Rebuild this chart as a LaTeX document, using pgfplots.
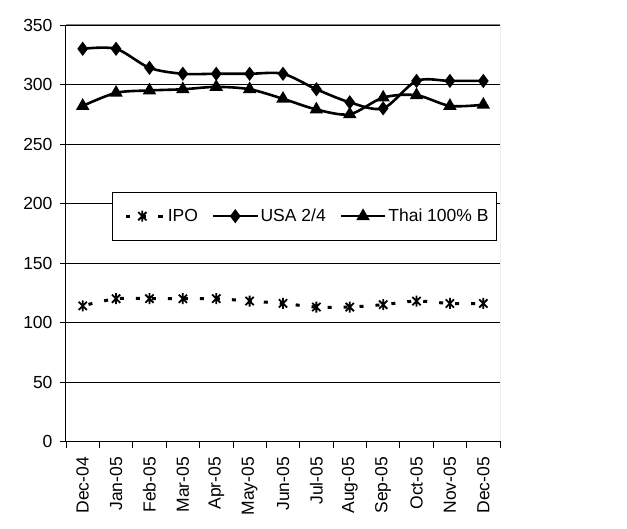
\documentclass[border=0pt]{standalone}
\usepackage{fontspec}
\setmainfont{Liberation Sans}
\usepackage{pgfplots}
\pgfplotsset{compat=1.18}

% Excel-style star: a vertical bar crossed by an X
\pgfdeclareplotmark{xlstar}{%
  \pgfpathmoveto{\pgfqpoint{0pt}{\pgfplotmarksize}}%
  \pgfpathlineto{\pgfqpoint{0pt}{-\pgfplotmarksize}}%
  \pgfpathmoveto{\pgfqpoint{-0.75\pgfplotmarksize}{0.75\pgfplotmarksize}}%
  \pgfpathlineto{\pgfqpoint{0.75\pgfplotmarksize}{-0.75\pgfplotmarksize}}%
  \pgfpathmoveto{\pgfqpoint{-0.75\pgfplotmarksize}{-0.75\pgfplotmarksize}}%
  \pgfpathlineto{\pgfqpoint{0.75\pgfplotmarksize}{0.75\pgfplotmarksize}}%
  \pgfusepathqstroke}

\pgfplotstableread{
x  ipo    usa    thai
0  114    330    282
1  120    330    293
2  120    314    295
3  120    309    296
4  120    309    298
5  118    309    296
6  116    309    288
7  113    296    279
8  113    285    275
9  115    280    289
10 118    303    291
11 116    303    282
12 116    303    283
}\prices

\begin{document}
\begin{tikzpicture}
\begin{axis}[
    scale only axis,
    width=434pt, height=416.5pt,
    xmin=-0.5, xmax=12.5,
    ymin=0, ymax=350,
    ytick={0,50,...,350},
    xtick={0,...,12},
    xticklabels={Dec-04,Jan-05,Feb-05,Mar-05,Apr-05,May-05,Jun-05,Jul-05,Aug-05,Sep-05,Oct-05,Nov-05,Dec-05},
    minor xtick={-0.5,0.5,...,12.5},
    x tick label style={rotate=90, anchor=east, xshift=-6pt},
    y tick label style={xshift=-4pt},
    axis x line*=bottom, axis y line*=left,
    axis line style={black, line width=1pt},
    tick style={black, line width=0.8pt},
    tick align=outside,
    major x tick style={draw=none},
    minor tick length=7pt,
    major tick length=6pt,
    ymajorgrids,
    major grid style={black, line width=0.8pt},
    ticklabel style={font=\fontsize{17.5}{21}\selectfont},
    /pgf/number format/assume math mode=true,
    legend columns=3,
    legend style={at={(0.55,0.541)}, anchor=center, draw=black, line width=0.8pt,
        font=\fontsize{17.5}{21}\selectfont, inner xsep=6pt, inner ysep=15pt,
        /tikz/every even column/.append style={column sep=12pt}},
    legend image code/.code={\draw[mark repeat=2,mark phase=2,#1] plot coordinates {(0pt,0pt)(22pt,0pt)(44pt,0pt)};},
    every axis plot/.append style={line width=2.6pt},
]
\addplot[black, line width=3pt, dash pattern=on 4pt off 12pt, dash phase=-6pt, mark=xlstar, mark size=5.5pt, mark options={solid, line width=1.8pt}, smooth, tension=0.5] table[x=x, y=ipo] {\prices};
\addlegendentry{IPO}
\addplot[black, mark=diamond*, mark size=5pt, mark options={solid}, smooth, tension=0.5] table[x=x, y=usa] {\prices};
\addlegendentry{USA 2/4}
\addplot[black, mark=triangle*, mark size=5.2pt, mark options={solid}, smooth, tension=0.5] table[x=x, y=thai] {\prices};
\addlegendentry{Thai 100\% B}
\draw[gray, line width=1pt] (rel axis cs:0,1) -- (rel axis cs:1,1) -- (rel axis cs:1,0);
\end{axis}
\path ([xshift=-66pt,yshift=-87.5pt]current axis.south west) rectangle ([xshift=127pt,yshift=25pt]current axis.north east);
\end{tikzpicture}
\end{document}
